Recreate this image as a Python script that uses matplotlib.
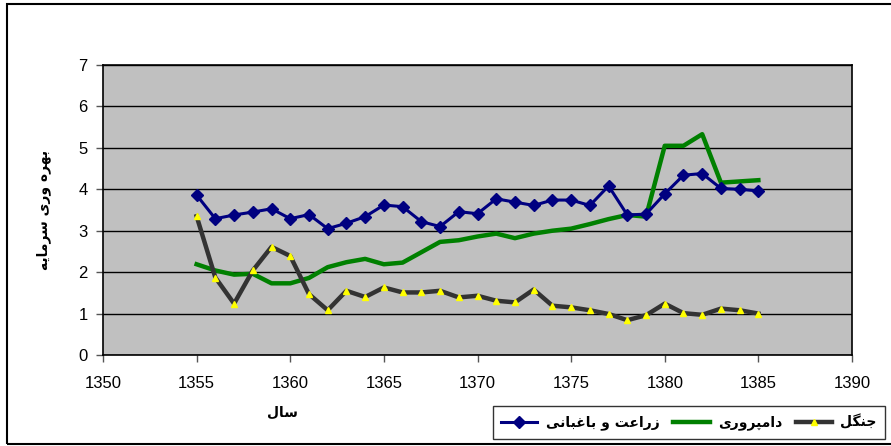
import matplotlib
matplotlib.use("Agg")
import matplotlib.pyplot as plt
from matplotlib.patches import Rectangle

years = list(range(1355, 1386))
zeraat = [3.86, 3.29, 3.38, 3.45, 3.53, 3.29, 3.39, 3.05, 3.18, 3.34,
          3.62, 3.58, 3.22, 3.10, 3.46, 3.41, 3.77, 3.69, 3.61, 3.74,
          3.74, 3.61, 4.08, 3.38, 3.40, 3.89, 4.34, 4.38, 4.02, 4.00, 3.96]
damparvari = [2.19, 2.04, 1.94, 1.96, 1.73, 1.73, 1.86, 2.12, 2.24, 2.32,
              2.19, 2.23, 2.48, 2.73, 2.77, 2.86, 2.93, 2.82, 2.93, 3.00,
              3.05, 3.16, 3.28, 3.38, 3.34, 5.05, 5.05, 5.33, 4.16, 4.19, 4.22]
jangal = [3.35, 1.87, 1.24, 2.04, 2.61, 2.39, 1.47, 1.08, 1.55, 1.40,
          1.63, 1.51, 1.51, 1.55, 1.39, 1.43, 1.31, 1.27, 1.58, 1.19,
          1.15, 1.08, 0.99, 0.84, 0.96, 1.24, 1.01, 0.97, 1.12, 1.08, 1.00]

labels = ["زراعت و باغبانی", "دامپروری", "جنگل"]
xlabel = "سال"
ylabel = "بهره وری سرمایه"

# matplotlib has no arabic shaping, so pick presentation forms by hand
# (isolated, final, initial, medial); two-form letters only join to the right
FORMS = {
    "ا": ("\uFE8D", "\uFE8E"), "د": ("\uFEA9", "\uFEAA"),
    "ر": ("\uFEAD", "\uFEAE"), "ز": ("\uFEAF", "\uFEB0"),
    "و": ("\uFEED", "\uFEEE"),
    "ب": ("\uFE8F", "\uFE90", "\uFE91", "\uFE92"),
    "پ": ("\uFB56", "\uFB57", "\uFB58", "\uFB59"),
    "ت": ("\uFE95", "\uFE96", "\uFE97", "\uFE98"),
    "ج": ("\uFE9D", "\uFE9E", "\uFE9F", "\uFEA0"),
    "س": ("\uFEB1", "\uFEB2", "\uFEB3", "\uFEB4"),
    "ع": ("\uFEC9", "\uFECA", "\uFECB", "\uFECC"),
    "غ": ("\uFECD", "\uFECE", "\uFECF", "\uFED0"),
    "گ": ("\uFB92", "\uFB93", "\uFB94", "\uFB95"),
    "ل": ("\uFEDD", "\uFEDE", "\uFEDF", "\uFEE0"),
    "م": ("\uFEE1", "\uFEE2", "\uFEE3", "\uFEE4"),
    "ن": ("\uFEE5", "\uFEE6", "\uFEE7", "\uFEE8"),
    "ه": ("\uFEE9", "\uFEEA", "\uFEEB", "\uFEEC"),
    "ی": ("\uFBFC", "\uFBFD", "\uFBFE", "\uFBFF"),
}


def shape(text):
    out = []
    for i, ch in enumerate(text):
        if ch not in FORMS:
            out.append(ch)
            continue
        prev = text[i - 1] if i > 0 else ""
        nxt = text[i + 1] if i + 1 < len(text) else ""
        join_prev = prev in FORMS and len(FORMS[prev]) == 4
        join_next = len(FORMS[ch]) == 4 and nxt in FORMS
        f = FORMS[ch]
        if join_prev and join_next:
            out.append(f[3])
        elif join_prev:
            out.append(f[1])
        elif join_next:
            out.append(f[2])
        else:
            out.append(f[0])
    return "".join(out)[::-1]


plt.rcParams["font.family"] = ["Liberation Sans", "DejaVu Sans"]

fig = plt.figure(figsize=(8.91, 4.46), dpi=100)
ax = fig.add_axes([103 / 891, 1 - 355 / 446, 749 / 891, 290 / 446])
ax.set_facecolor("#C0C0C0")

ax.plot(years, zeraat, color="#000080", lw=2.2, marker="D", ms=6,
        label=shape(labels[0]), zorder=4)
ax.plot(years, damparvari, color="#008000", lw=3.2,
        label=shape(labels[1]), zorder=3)
ax.plot(years, jangal, color="#333333", lw=3.2, marker="^", ms=4,
        mfc="#FFFF00", mec="#FFFF00", label=shape(labels[2]), zorder=3)

ax.set_xlim(1350, 1390)
ax.set_ylim(0, 7)
ax.set_xticks(range(1350, 1391, 5))
ax.set_yticks(range(0, 8))
ax.yaxis.grid(True, color="black", lw=1)
ax.set_axisbelow(True)
for s in ax.spines.values():
    s.set_color("black")
    s.set_linewidth(1.2)
ax.tick_params(axis="both", direction="out", length=5, width=1,
               color="#555555", labelsize=12, pad=6)
ax.tick_params(axis="x", pad=10)

ax.set_xlabel(shape(xlabel), family=["DejaVu Sans"], fontweight="bold",
              fontsize=10)
ax.xaxis.set_label_coords(0.239, -0.175)
ax.set_ylabel(shape(ylabel), family=["DejaVu Sans"], fontweight="bold",
              fontsize=10)
ax.yaxis.set_label_coords(-0.07, 0.5)

leg = fig.legend(loc="upper left", bbox_to_anchor=(493 / 891, 1 - 406 / 446),
                 ncol=3, frameon=True, fancybox=False, handlelength=2.6,
                 handletextpad=0.6, columnspacing=1.0, borderaxespad=0,
                 borderpad=0.6,
                 prop={"family": "DejaVu Sans", "weight": "bold", "size": 10})
leg.get_frame().set_edgecolor("black")
leg.get_frame().set_linewidth(1)

fig.patches.append(Rectangle((7 / 891, 1 - 444 / 446), 2, 440 / 446,
                             transform=fig.transFigure, fill=False,
                             edgecolor="black", lw=1.5, clip_on=False))

fig.savefig("out.png", dpi=100)
